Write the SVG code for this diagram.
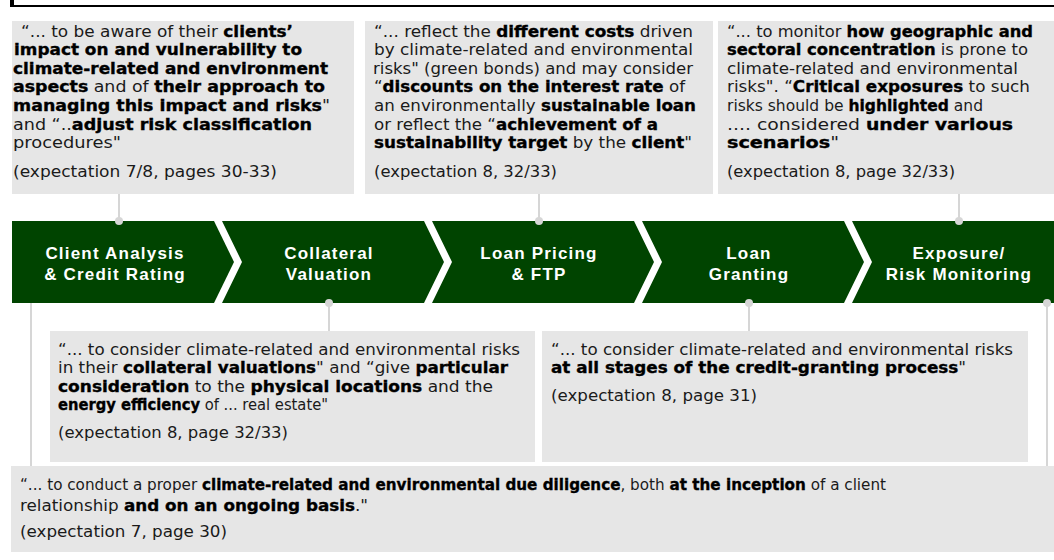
<svg xmlns="http://www.w3.org/2000/svg" width="1054" height="560" viewBox="0 0 1054 560">
<style>
.box{fill:#e6e6e6}
.t{font-family:"DejaVu Sans","Liberation Sans",sans-serif;font-size:16px;fill:#1a1a1a}
.b{font-weight:bold;fill:#000;stroke:#000;stroke-width:0.35px}
.chev{fill:#004400}
.lbl{font-family:"Liberation Sans",Arial,sans-serif;font-weight:bold;font-size:17px;fill:#fff;text-anchor:middle;letter-spacing:1.2px}
.con{stroke:#d6d6d6;stroke-width:2;fill:none}
.dot{fill:#d6d6d6}
</style>
<rect x="10" y="0" width="4" height="6" fill="#000"/>
<rect x="10" y="5" width="1044" height="2" fill="#000"/>

<g id="connectors">
<line class="con" x1="119" y1="194" x2="119" y2="221"/>
<line class="con" x1="539" y1="194" x2="539" y2="221"/>
<line class="con" x1="959" y1="194" x2="959" y2="221"/>
<line class="con" x1="31" y1="303" x2="31" y2="466"/>
<line class="con" x1="329" y1="303" x2="329" y2="331"/>
<line class="con" x1="749" y1="303" x2="749" y2="331"/>
<line class="con" x1="1047" y1="303" x2="1047" y2="466"/>
</g>

<g id="box-client-analysis">
<rect class="box" x="12" y="21" width="342" height="173"/>
<text class="t" x="21" y="36.5" textLength="272" lengthAdjust="spacingAndGlyphs">“... to be aware of their <tspan class="b">clients’</tspan></text>
<text class="t" x="14" y="55.2" textLength="288" lengthAdjust="spacingAndGlyphs"><tspan class="b">impact on and vulnerability to</tspan></text>
<text class="t" x="13" y="73.8" textLength="315" lengthAdjust="spacingAndGlyphs"><tspan class="b">climate-related and environment</tspan></text>
<text class="t" x="13" y="92.4" textLength="312" lengthAdjust="spacingAndGlyphs"><tspan class="b">aspects</tspan> and of <tspan class="b">their approach to</tspan></text>
<text class="t" x="13" y="111" textLength="317" lengthAdjust="spacingAndGlyphs"><tspan class="b">managing this impact and risks</tspan>"</text>
<text class="t" x="13" y="129.6" textLength="299" lengthAdjust="spacingAndGlyphs">and “..<tspan class="b">adjust risk classification</tspan></text>
<text class="t" x="13" y="148.2" textLength="108" lengthAdjust="spacingAndGlyphs">procedures"</text>
<text class="t" x="13" y="176.5" textLength="264" lengthAdjust="spacingAndGlyphs">(expectation 7/8, pages 30-33)</text>
</g>

<g id="box-loan-pricing">
<rect class="box" x="365" y="21" width="348" height="173"/>
<text class="t" x="374" y="36.5" textLength="319" lengthAdjust="spacingAndGlyphs">“... reflect the <tspan class="b">different costs</tspan> driven</text>
<text class="t" x="374" y="55.2" textLength="319" lengthAdjust="spacingAndGlyphs">by climate-related and environmental</text>
<text class="t" x="373" y="73.8" textLength="320" lengthAdjust="spacingAndGlyphs">risks" (green bonds) and may consider</text>
<text class="t" x="374" y="92.4" textLength="311" lengthAdjust="spacingAndGlyphs">“<tspan class="b">discounts on the interest rate</tspan> of</text>
<text class="t" x="374" y="111" textLength="322" lengthAdjust="spacingAndGlyphs">an environmentally <tspan class="b">sustainable loan</tspan></text>
<text class="t" x="374" y="129.6" textLength="284" lengthAdjust="spacingAndGlyphs">or reflect the “<tspan class="b">achievement of a</tspan></text>
<text class="t" x="374" y="148.2" textLength="318" lengthAdjust="spacingAndGlyphs"><tspan class="b">sustainability target</tspan> by the <tspan class="b">client</tspan>"</text>
<text class="t" x="374" y="176.5" textLength="183" lengthAdjust="spacingAndGlyphs">(expectation 8, 32/33)</text>
</g>

<g id="box-exposure">
<rect class="box" x="718" y="21" width="336" height="173"/>
<text class="t" x="727" y="36.5" textLength="306" lengthAdjust="spacingAndGlyphs">“... to monitor <tspan class="b">how geographic and</tspan></text>
<text class="t" x="727" y="55.2" textLength="301" lengthAdjust="spacingAndGlyphs"><tspan class="b">sectoral concentration</tspan> is prone to</text>
<text class="t" x="727" y="73.8" textLength="291" lengthAdjust="spacingAndGlyphs">climate-related and environmental</text>
<text class="t" x="727" y="92.4" textLength="303" lengthAdjust="spacingAndGlyphs">risks". “<tspan class="b">Critical exposures</tspan> to such</text>
<text class="t" x="727" y="111" textLength="256" lengthAdjust="spacingAndGlyphs">risks should be <tspan class="b">highlighted</tspan> and</text>
<text class="t" x="727" y="129.6" textLength="286" lengthAdjust="spacingAndGlyphs">.... considered <tspan class="b">under various</tspan></text>
<text class="t" x="727" y="148.2" textLength="112" lengthAdjust="spacingAndGlyphs"><tspan class="b">scenarios</tspan>"</text>
<text class="t" x="727" y="176.5" textLength="228" lengthAdjust="spacingAndGlyphs">(expectation 8, page 32/33)</text>
</g>

<g id="step-1">
<polygon class="chev" points="12,221 214,221 234,262 214,303 12,303"/>
<text class="lbl" x="115" y="259">Client Analysis</text>
<text class="lbl" x="115" y="280">&amp; Credit Rating</text>
</g>
<g id="step-2">
<polygon class="chev" points="222,221 424,221 444,262 424,303 222,303 242,262"/>
<text class="lbl" x="329" y="259">Collateral</text>
<text class="lbl" x="329" y="280">Valuation</text>
</g>
<g id="step-3">
<polygon class="chev" points="432,221 634,221 654,262 634,303 432,303 452,262"/>
<text class="lbl" x="539" y="259">Loan Pricing</text>
<text class="lbl" x="539" y="280">&amp; FTP</text>
</g>
<g id="step-4">
<polygon class="chev" points="642,221 844,221 864,262 844,303 642,303 662,262"/>
<text class="lbl" x="749" y="259">Loan</text>
<text class="lbl" x="749" y="280">Granting</text>
</g>
<g id="step-5">
<polygon class="chev" points="852,221 1054,221 1054,303 852,303 872,262"/>
<text class="lbl" x="959" y="259">Exposure/</text>
<text class="lbl" x="959" y="280">Risk Monitoring</text>
</g>

<g id="connector-dots">
<circle class="dot" cx="119" cy="221" r="4"/>
<circle class="dot" cx="539" cy="221" r="4"/>
<circle class="dot" cx="959" cy="221" r="4"/>
<circle class="dot" cx="329" cy="303" r="4"/>
<circle class="dot" cx="749" cy="303" r="4"/>
<circle class="dot" cx="1047" cy="303" r="4"/>
</g>

<g id="box-collateral">
<rect class="box" x="50" y="331" width="485" height="131"/>
<text class="t" x="58" y="354.5" textLength="462" lengthAdjust="spacingAndGlyphs">“... to consider climate-related and environmental risks</text>
<text class="t" x="58" y="373" textLength="450" lengthAdjust="spacingAndGlyphs">in their <tspan class="b">collateral valuations</tspan>" and “give <tspan class="b">particular</tspan></text>
<text class="t" x="58" y="391.5" textLength="435" lengthAdjust="spacingAndGlyphs"><tspan class="b">consideration</tspan> to the <tspan class="b">physical locations</tspan> and the</text>
<text class="t" x="58" y="410" textLength="270" lengthAdjust="spacingAndGlyphs"><tspan class="b">energy efficiency</tspan> of ... real estate"</text>
<text class="t" x="58" y="437.5" textLength="230" lengthAdjust="spacingAndGlyphs">(expectation 8, page 32/33)</text>
</g>

<g id="box-loan-granting">
<rect class="box" x="542" y="331" width="486" height="131"/>
<text class="t" x="551" y="354.5" textLength="462" lengthAdjust="spacingAndGlyphs">“... to consider climate-related and environmental risks</text>
<text class="t" x="551" y="373" textLength="415" lengthAdjust="spacingAndGlyphs"><tspan class="b">at all stages of the credit-granting process</tspan>"</text>
<text class="t" x="551" y="401" textLength="206" lengthAdjust="spacingAndGlyphs">(expectation 8, page 31)</text>
</g>

<g id="box-due-diligence">
<rect class="box" x="11" y="466" width="1043" height="86"/>
<text class="t" x="20" y="490" textLength="866" lengthAdjust="spacingAndGlyphs">“... to conduct a proper <tspan class="b">climate-related and environmental due diligence</tspan>, both <tspan class="b">at the inception</tspan> of a client</text>
<text class="t" x="20" y="511" textLength="348" lengthAdjust="spacingAndGlyphs">relationship <tspan class="b">and on an ongoing basis</tspan>."</text>
<text class="t" x="20" y="537" textLength="207" lengthAdjust="spacingAndGlyphs">(expectation 7, page 30)</text>
</g>
</svg>
